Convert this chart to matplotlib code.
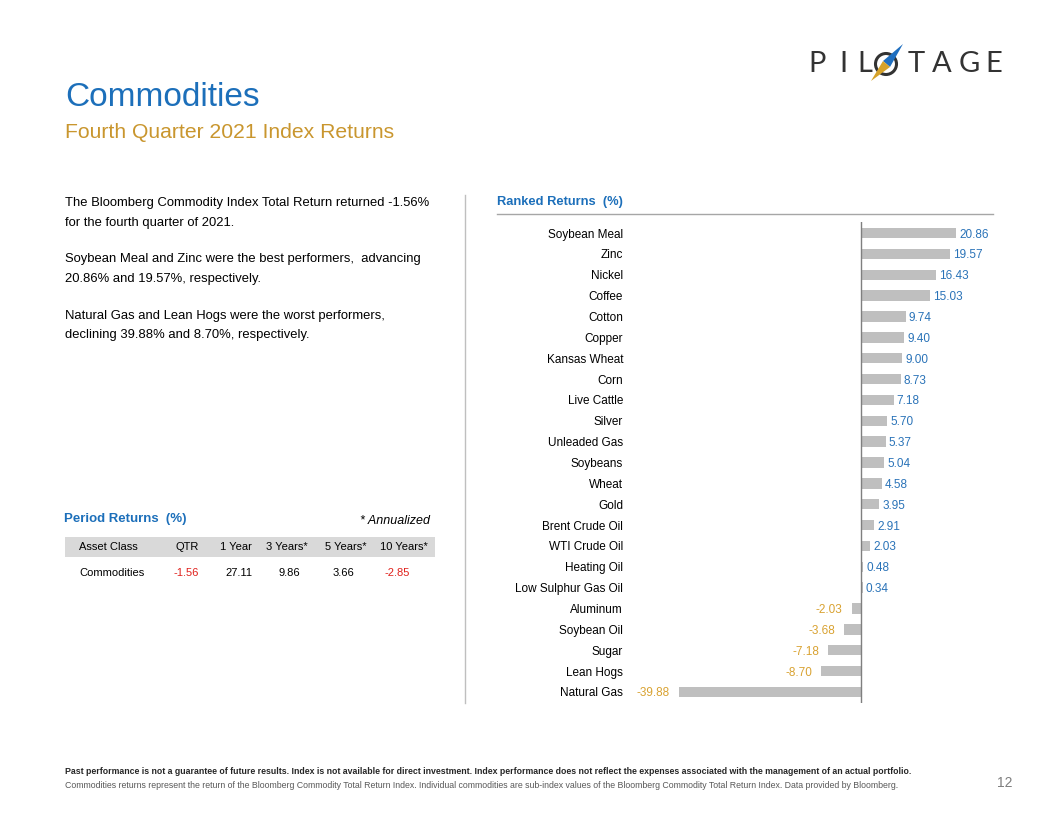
import matplotlib
matplotlib.use("Agg")
import matplotlib.pyplot as plt
from matplotlib.patches import Polygon, Rectangle
from matplotlib.transforms import Affine2D

# ranked returns, Q4 2021
names = ["Soybean Meal", "Zinc", "Nickel", "Coffee", "Cotton", "Copper",
         "Kansas Wheat", "Corn", "Live Cattle", "Silver", "Unleaded Gas",
         "Soybeans", "Wheat", "Gold", "Brent Crude Oil", "WTI Crude Oil",
         "Heating Oil", "Low Sulphur Gas Oil", "Aluminum", "Soybean Oil",
         "Sugar", "Lean Hogs", "Natural Gas"]
values = [20.86, 19.57, 16.43, 15.03, 9.74, 9.40, 9.00, 8.73, 7.18, 5.70,
          5.37, 5.04, 4.58, 3.95, 2.91, 2.03, 0.48, 0.34, -2.03, -3.68,
          -7.18, -8.70, -39.88]

# period returns table
period_cols = ["Asset Class", "QTR", "1 Year", "3 Years*", "5 Years*", "10 Years*"]
period_row = ["Commodities", -1.56, 27.11, 9.86, 3.66, -2.85]

body_lines = [
    "The Bloomberg Commodity Index Total Return returned -1.56%",
    "for the fourth quarter of 2021.",
    "Soybean Meal and Zinc were the best performers,  advancing",
    "20.86% and 19.57%, respectively.",
    "Natural Gas and Lean Hogs were the worst performers,",
    "declining 39.88% and 8.70%, respectively.",
]

BLUE = "#1C6FBA"
GOLD = "#C9962E"
LBL_BLUE = "#2A73B8"
LBL_GOLD = "#D9A231"
RED = "#E0201B"
BAR = "#BFBFBF"

plt.rcParams["font.family"] = ["Liberation Sans", "DejaVu Sans"]

W, H = 1056, 816
fig = plt.figure(figsize=(W / 100, H / 100), dpi=100)
fig.patch.set_facecolor("white")


def fx(x):
    return x / W


def fy(y):
    return 1 - y / H


def txt(x, y, s, **kw):
    kw.setdefault("va", "center")
    fig.text(fx(x), fy(y), s, **kw)


# pixel transform (origin top-left)
pix = Affine2D().scale(1, -1).translate(0, H)

# logo
logo_font = ["Lato", "Liberation Sans"]
for ch, cx in zip("PIL", [817, 843, 865]):
    txt(cx, 64, ch, fontsize=21, color="#333333", ha="center", family=logo_font)
for ch, cx in zip("TAGE", [916, 942, 969, 994]):
    txt(cx, 64, ch, fontsize=21, color="#333333", ha="center", family=logo_font)
circ = plt.Circle((886, 64), 10.5, transform=pix, fill=False,
                  ec="#333333", lw=2.2)
fig.patches.append(circ)
fig.patches.append(Polygon([(903, 44), (883, 61), (890, 67)], closed=True,
                           transform=pix, fc="#1F6FC0", ec="none"))
fig.patches.append(Polygon([(871, 81), (883, 61), (890, 67)], closed=True,
                           transform=pix, fc="#D6A229", ec="none"))

# titles
txt(65, 97, "Commodities", fontsize=24, color=BLUE)
txt(65, 132, "Fourth Quarter 2021 Index Returns", fontsize=15.2, color=GOLD)

# commentary
for s, y in zip(body_lines, [203, 223, 259, 279, 316, 335]):
    txt(65, y, s, fontsize=9.4, color="black")

# divider
fig.add_artist(plt.Line2D([fx(465), fx(465)], [fy(195), fy(703)],
                          color="#BFBFBF", lw=1))

# period returns
txt(64, 519, "Period Returns  (%)", fontsize=9.5, color=BLUE, fontweight="bold")
txt(430, 521, "* Annualized", fontsize=9, style="italic", ha="right")
fig.patches.append(Rectangle((fx(65), fy(557)), fx(435) - fx(65),
                             fy(537) - fy(557), transform=fig.transFigure,
                             fc="#D9D9D9", ec="none"))
head_x = [79, 199, 252, 308, 367, 428]
row_x = [79, 186, 239, 289, 343, 397]
for i, c in enumerate(period_cols):
    txt(head_x[i], 547, c, fontsize=8, ha="left" if i == 0 else "right")
for i, v in enumerate(period_row):
    if i == 0:
        txt(row_x[i], 573, v, fontsize=8, ha="left")
    else:
        txt(row_x[i], 573, f"{v:.2f}", fontsize=8, ha="center",
            color=RED if v < 0 else "black")

# ranked returns header
txt(497, 202, "Ranked Returns  (%)", fontsize=9.3, color=BLUE, fontweight="bold")
fig.add_artist(plt.Line2D([fx(497), fx(993)], [fy(214), fy(214)],
                          color="#A6A6A6", lw=1))

# bar chart
ax = fig.add_axes([fx(630), fy(703), (1000 - 630) / W, (703 - 222) / H])
pos = list(range(len(names)))
ax.barh(pos, values, height=0.5, color=BAR, zorder=2)
ax.set_xlim(-50.55, 30.42)
ax.set_ylim(len(names) - 0.47, -0.53)
ax.axvline(0, color="#7F7F7F", lw=1, zorder=3)
ax.set_yticks(pos, names)
ax.set_xticks([])
ax.tick_params(axis="y", length=0, pad=5, labelsize=8.5)
for lbl in ax.get_yticklabels():
    lbl.set_verticalalignment("center_baseline")
for sp in ax.spines.values():
    sp.set_visible(False)
ax.patch.set_alpha(0)
for p, v in zip(pos, values):
    if v >= 0:
        ax.annotate(f"{v:.2f}", (v, p), xytext=(2.2, 0),
                    textcoords="offset points", ha="left", va="center_baseline",
                    fontsize=8.5, color=LBL_BLUE)
    else:
        ax.annotate(f"{v:.2f}", (v, p), xytext=(-6.5, 0),
                    textcoords="offset points", ha="right", va="center_baseline",
                    fontsize=8.5, color=LBL_GOLD)

# footer
narrow = ["Liberation Sans Narrow", "Liberation Sans", "DejaVu Sans"]
txt(65, 772, "Past performance is not a guarantee of future results. Index is not "
    "available for direct investment. Index performance does not reflect the "
    "expenses associated with the management of an actual portfolio.",
    fontsize=6.3, fontweight="bold", family=narrow, color="#262626")
txt(65, 785, "Commodities returns represent the return of the Bloomberg Commodity "
    "Total Return Index. Individual commodities are sub-index values of the "
    "Bloomberg Commodity Total Return Index. Data provided by Bloomberg.",
    fontsize=6.3, family=narrow, color="#595959")
txt(1012, 783, "12", fontsize=10, color="#7F7F7F", ha="right")

fig.savefig("out.png", dpi=100, facecolor="white")
